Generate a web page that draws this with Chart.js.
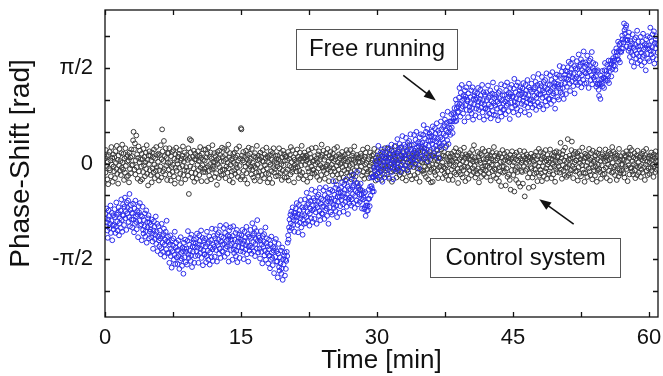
<!DOCTYPE html>
<html>
<head>
<meta charset="utf-8">
<script src="https://cdn.jsdelivr.net/npm/chart.js@4/dist/chart.umd.min.js"></script>
<style>
html,body{margin:0;padding:0;background:#fff;}
#wrap{width:663px;height:376px;position:relative;}
</style>
</head>
<body>
<div id="wrap"><canvas id="c" width="663" height="376"></canvas></div>
<script>
// sampling: one value every 0.05 min starting at 0 min
const startTime = 0;
const sampleStep = 0.05;

// Control system (black) phase shift, rad
const controlPhase = [
0.08,-0.15,0.22,-0.04,0.12,-0.26,0.03,-0.34,0.14,-0.08,0.19,-0.11,0.05,-0.21,0.27,-0.02,0.09,-0.30,0.15,-0.05,
-0.13,0.10,-0.24,0.20,0.01,-0.09,0.29,-0.17,0.06,-0.33,0.13,-0.03,0.24,-0.12,0.04,-0.19,0.17,-0.07,0.31,0.02,
-0.10,0.16,-0.27,0.08,-0.15,0.25,-0.04,0.11,-0.22,0.03,0.14,-0.20,0.05,-0.31,0.18,-0.09,0.10,-0.16,0.23,-0.03,
0.12,-0.02,0.38,0.52,0.23,-0.10,0.33,-0.18,0.05,0.46,-0.06,0.15,-0.25,0.09,0.28,-0.13,0.02,0.21,-0.29,0.07,
-0.05,0.16,-0.26,0.07,-0.14,0.24,-0.03,0.11,-0.21,0.02,0.18,-0.09,0.30,-0.17,0.06,-0.36,0.13,-0.01,0.20,-0.11,
0.13,-0.19,0.05,-0.31,0.18,-0.08,0.10,-0.15,0.23,-0.02,-0.24,0.08,-0.12,0.27,-0.06,0.14,-0.20,0.03,0.16,-0.28,
-0.11,0.14,-0.05,0.30,-0.23,0.07,0.56,0.20,-0.13,0.04,0.37,-0.09,0.12,-0.18,0.25,-0.04,0.09,-0.27,0.17,0.01,
0.17,-0.10,0.25,-0.18,0.02,-0.28,0.12,-0.06,0.19,-0.14,-0.02,0.22,-0.21,0.08,-0.33,0.15,-0.07,0.26,-0.12,0.05,
-0.01,0.11,-0.24,0.16,-0.07,0.22,-0.17,0.05,-0.32,0.08,0.13,-0.04,0.28,-0.19,0.03,-0.11,0.18,-0.26,0.09,-0.06,
0.14,-0.12,0.06,-0.20,0.25,-0.50,0.09,0.40,-0.05,0.18,0.38,-0.15,0.02,-0.23,0.11,-0.08,0.21,-0.30,0.07,0.16,
-0.16,0.07,-0.25,0.12,-0.02,0.20,-0.11,0.04,-0.19,0.13,0.27,-0.07,0.09,-0.29,0.16,-0.03,0.06,-0.14,0.23,-0.09,
0.05,-0.14,0.23,-0.07,0.10,-0.29,0.16,-0.04,0.26,-0.12,-0.20,0.11,-0.01,0.18,-0.26,0.08,-0.10,0.30,-0.05,0.03,
-0.08,0.17,-0.22,0.02,0.12,-0.16,0.06,-0.35,0.19,-0.01,0.09,-0.24,0.21,-0.06,0.14,-0.13,0.03,-0.19,0.26,-0.10,
0.11,-0.18,0.04,0.24,-0.10,0.14,-0.24,0.07,-0.05,0.22,-0.15,0.01,0.31,-0.08,0.10,-0.28,0.17,-0.02,0.06,-0.20,
-0.13,0.08,-0.31,0.16,0.01,-0.11,0.18,-0.17,0.10,-0.02,0.24,-0.07,0.13,-0.22,0.05,-0.14,0.28,-0.04,0.08,-0.26,
0.58,0.56,0.13,-0.22,0.05,0.19,-0.12,0.02,-0.26,0.11,-0.05,0.21,-0.16,0.07,-0.33,0.14,-0.01,0.26,-0.09,0.04,
0.16,-0.05,0.08,-0.18,0.24,-0.10,0.01,-0.23,0.12,-0.04,-0.28,0.17,-0.07,0.10,-0.15,0.29,-0.02,0.06,-0.20,0.13,
-0.14,0.07,-0.29,0.18,-0.06,0.11,-0.19,0.04,0.22,-0.11,0.03,-0.24,0.15,-0.03,0.09,-0.17,0.26,-0.08,0.12,-0.31,
0.10,-0.17,0.02,-0.25,0.14,-0.02,0.20,-0.13,0.06,-0.32,0.17,-0.06,0.25,-0.15,0.04,-0.09,0.13,-0.21,0.08,0.01,
-0.05,0.13,-0.20,0.07,0.25,-0.08,0.04,-0.16,0.17,-0.01,-0.27,0.10,-0.12,0.21,-0.03,0.15,-0.23,0.05,0.11,-0.14,
0.12,-0.23,0.05,-0.10,0.19,-0.28,0.08,-0.04,0.14,-0.18,0.27,-0.06,0.02,-0.14,0.22,-0.09,0.10,-0.31,0.06,-0.02,
-0.07,0.16,-0.13,0.02,0.23,-0.06,0.11,-0.24,0.06,-0.12,0.18,-0.19,0.08,-0.03,0.29,-0.15,0.04,0.13,-0.26,0.09,
0.18,-0.02,0.10,-0.20,0.04,0.13,-0.30,0.07,-0.08,0.22,-0.13,0.01,0.16,-0.23,0.09,-0.05,0.25,-0.16,0.03,-0.10,
-0.11,0.05,-0.17,0.12,-0.01,0.26,-0.14,0.08,-0.22,0.02,0.15,-0.08,0.20,-0.27,0.06,-0.03,0.11,-0.19,0.31,-0.06,
0.14,-0.07,0.21,-0.12,0.06,-0.25,0.11,-0.05,0.17,-0.16,-0.02,0.24,-0.10,0.03,-0.29,0.13,-0.06,0.19,-0.13,0.08,
-0.02,0.10,-0.19,0.16,-0.08,0.04,0.24,-0.13,0.07,-0.29,0.12,-0.04,0.27,-0.18,0.02,-0.10,0.15,-0.24,0.09,-0.01,
0.12,-0.17,0.01,0.19,-0.06,0.11,-0.23,0.05,-0.11,0.14,-0.28,0.08,-0.03,0.22,-0.15,0.03,0.17,-0.09,0.06,-0.20,
-0.04,0.22,-0.14,0.07,-0.26,0.13,-0.01,0.17,-0.18,0.06,0.28,-0.11,0.02,-0.21,0.10,-0.06,0.14,-0.32,0.08,0.03,
0.10,-0.11,0.02,-0.42,0.16,-0.05,0.12,-0.20,0.04,0.23,-0.14,0.07,-0.25,0.11,-0.02,0.18,-0.08,0.01,-0.17,0.26,
-0.13,0.07,-0.24,0.11,-0.04,0.18,-0.10,0.01,-0.17,0.13,0.05,-0.21,0.15,-0.07,0.24,-0.12,0.03,-0.28,0.09,-0.02,
0.05,-0.16,0.20,-0.07,0.10,-0.22,0.02,0.14,-0.12,0.06,-0.27,0.12,-0.03,0.19,-0.09,0.03,-0.18,0.25,-0.05,0.08,
-0.08,0.12,-0.18,0.04,0.24,-0.05,0.08,-0.25,0.16,-0.02,0.10,-0.13,0.21,-0.30,0.06,-0.07,0.15,-0.11,0.02,0.28,
0.11,-0.13,0.06,-0.23,0.17,-0.07,0.01,0.19,-0.11,0.05,-0.19,0.26,-0.04,0.08,-0.14,0.13,-0.24,0.03,0.17,-0.08,
-0.17,0.08,-0.04,0.14,-0.28,0.07,0.22,-0.10,0.02,-0.14,0.12,-0.06,0.30,-0.20,0.05,-0.02,0.10,-0.26,0.16,0.01,
0.13,-0.06,0.18,-0.19,0.05,-0.01,0.11,-0.24,0.16,-0.08,-0.15,0.21,-0.03,0.09,-0.30,0.14,-0.10,0.04,0.24,-0.12,
0.02,0.20,-0.12,0.07,-0.17,0.25,-0.05,0.10,-0.22,0.01,0.16,-0.09,0.03,-0.26,0.12,-0.04,0.19,-0.14,0.07,-0.31,
-0.10,0.14,-0.02,-0.30,0.12,-0.07,0.17,-0.14,0.06,-0.19,0.09,-0.02,0.23,-0.11,0.04,-0.24,0.15,-0.06,0.10,0.27,
0.08,-0.04,0.23,-0.11,0.02,-0.24,0.13,-0.06,0.19,-0.16,-0.08,0.11,-0.20,0.29,-0.03,0.07,-0.13,0.16,-0.27,0.04,
-0.01,0.11,-0.20,0.05,0.16,-0.10,0.04,-0.27,0.12,-0.05,0.20,-0.15,0.08,-0.02,0.25,-0.18,0.03,0.13,-0.09,-0.32,
0.18,-0.14,0.07,-0.02,0.22,-0.18,0.10,-0.07,0.14,-0.23,0.04,-0.11,0.26,-0.05,0.09,-0.29,0.15,0.01,-0.16,0.11,
-0.06,0.13,-0.25,0.08,-0.11,0.17,-0.01,0.06,-0.19,0.12,0.22,-0.08,0.03,-0.14,0.30,-0.04,0.10,-0.23,0.05,-0.12,
0.03,-0.17,0.19,-0.08,0.11,-0.31,0.05,0.16,-0.13,0.01,-0.22,0.14,-0.06,0.24,-0.10,0.07,-0.18,0.02,0.20,-0.04,
-0.12,0.07,-0.22,0.14,-0.04,0.10,-0.16,0.21,-0.07,0.02,0.13,-0.28,0.08,-0.02,0.18,-0.12,0.05,-0.20,0.27,-0.09,
0.13,-0.10,0.05,-0.24,0.17,-0.02,0.08,-0.18,0.12,-0.29,-0.06,0.16,-0.13,0.03,-0.37,0.10,-0.05,0.22,-0.15,0.04,
-0.05,0.16,-0.13,0.06,-0.36,0.11,-0.08,0.19,-0.22,0.04,0.09,-0.18,0.02,-0.27,0.14,-0.43,0.07,-0.11,0.20,-0.03,
0.10,-0.19,0.02,-0.46,0.14,-0.11,0.07,-0.27,0.18,-0.06,-0.14,0.05,-0.32,0.12,-0.04,0.21,-0.38,0.08,-0.12,0.01,
-0.14,0.05,-0.33,0.12,-0.04,0.20,-0.54,0.08,-0.12,0.01,0.15,-0.09,0.06,-0.23,0.11,-0.40,0.03,-0.16,0.09,-0.06,
0.16,-0.08,0.06,-0.23,0.11,-0.38,0.03,-0.17,0.13,-0.02,-0.10,0.19,-0.15,0.07,-0.29,0.12,-0.05,0.24,-0.20,0.02,
-0.10,0.19,-0.16,0.07,-0.29,0.12,-0.05,0.17,-0.21,0.09,0.03,-0.13,0.22,-0.08,0.05,-0.25,0.14,-0.02,0.08,-0.17,
0.02,-0.13,0.23,-0.07,0.08,-0.24,0.14,-0.01,0.06,-0.18,0.12,-0.05,0.18,-0.30,0.04,-0.09,0.20,-0.14,0.10,0.01,
0.12,-0.05,0.18,-0.15,0.03,0.34,-0.10,0.09,-0.25,0.15,-0.03,0.21,-0.12,0.05,-0.19,0.26,-0.07,0.11,-0.22,0.02,
-0.07,0.40,-0.19,0.06,-0.02,0.13,-0.16,0.08,-0.11,0.22,0.36,-0.04,0.10,-0.24,0.15,-0.08,0.02,0.19,-0.13,0.05,
0.05,-0.12,0.17,-0.28,0.11,-0.06,0.20,-0.17,0.01,0.07,-0.21,0.13,-0.03,0.26,-0.10,0.04,-0.15,0.09,-0.30,0.16,
-0.16,0.10,-0.04,0.14,-0.22,0.02,0.12,-0.08,0.24,-0.13,0.06,-0.19,0.17,-0.01,0.09,-0.26,0.21,-0.06,0.03,-0.11,
0.06,-0.20,0.13,-0.05,0.18,-0.30,0.07,-0.11,0.16,-0.02,-0.09,0.23,-0.14,0.04,-0.25,0.11,-0.03,0.15,-0.18,0.08,
-0.10,0.12,-0.17,0.04,0.23,-0.07,0.10,-0.24,0.05,0.14,-0.02,0.19,-0.12,0.07,-0.28,0.16,-0.05,0.09,-0.15,0.27,
0.01,-0.14,0.19,-0.06,0.11,-0.19,0.16,-0.04,0.08,-0.27,0.13,-0.08,0.03,-0.21,0.24,-0.11,0.06,-0.16,0.12,-0.02,
-0.12,0.07,-0.02,0.17,-0.16,0.06,-0.23,0.13,-0.05,0.11,0.20,-0.09,0.04,-0.29,0.15,-0.03,0.09,-0.18,0.26,-0.07,
0.14,-0.08,0.22,-0.13,0.04,-0.18,0.10,-0.01,0.17,-0.11,-0.24,0.08,-0.04,0.13,-0.19,0.21,-0.06,0.02,-0.15,0.10,
-0.04,0.12,-0.22,0.07,-0.10,0.16,-0.15,0.05,0.20,-0.06,0.09,-0.27,0.14,-0.02,0.24,-0.12,0.03,-0.19,0.11,-0.08,
0.08,-0.17,0.02,0.13,-0.07,0.18,-0.12,0.06,-0.02,0.11,-0.22,0.15,-0.05,0.09,-0.14,0.20,0.04,-0.10,0.12,-0.03,
0.04
];

// Free running (blue) phase shift, rad
const freePhase = [
-0.90,-0.83,-1.03,-0.74,-0.97,-1.10,-1.22,-0.92,-0.77,-0.86,-1.06,-0.99,-0.69,-1.14,-0.94,-0.81,-1.26,-1.02,-0.85,-1.08,
-1.01,-0.75,-0.88,-1.14,-1.04,-0.64,-0.84,-0.95,-1.10,-0.81,-0.72,-1.18,-0.98,-0.90,-0.77,-1.06,-0.59,-0.93,-1.12,-0.85,
-0.67,-0.85,-1.01,-0.71,-0.56,-0.90,-0.78,-1.09,-0.64,-0.82,-0.73,-0.61,-0.96,-0.88,-0.50,-1.03,-0.76,-0.68,-0.92,-0.81,
-1.05,-0.82,-0.66,-0.92,-1.13,-0.74,-0.99,-0.61,-0.87,-0.96,-1.08,-0.78,-0.84,-1.21,-0.70,-0.80,-0.94,-0.65,-1.02,-0.85,
-1.00,-1.26,-0.87,-0.71,-1.09,-1.15,-0.93,-1.03,-0.82,-1.20,-1.11,-0.77,-1.30,-0.96,-1.05,-0.90,-0.85,-1.23,-0.97,-1.12,
-1.08,-1.01,-1.21,-0.92,-1.15,-1.28,-1.40,-1.10,-0.95,-1.04,-1.24,-1.17,-0.87,-1.32,-1.12,-0.99,-1.44,-1.20,-1.03,-1.26,
-1.36,-1.10,-1.23,-1.49,-1.39,-0.99,-1.19,-1.30,-1.45,-1.16,-1.07,-1.53,-1.33,-1.25,-1.12,-1.41,-0.94,-1.28,-1.47,-1.20,
-1.29,-1.47,-1.63,-1.33,-1.18,-1.52,-1.40,-1.71,-1.26,-1.44,-1.35,-1.23,-1.58,-1.50,-1.12,-1.65,-1.38,-1.30,-1.54,-1.43,
-1.65,-1.42,-1.26,-1.52,-1.73,-1.34,-1.59,-1.21,-1.47,-1.56,-1.68,-1.38,-1.44,-1.81,-1.30,-1.40,-1.54,-1.25,-1.62,-1.45,
-1.40,-1.66,-1.27,-1.11,-1.49,-1.55,-1.33,-1.43,-1.22,-1.60,-1.51,-1.17,-1.70,-1.36,-1.45,-1.30,-1.25,-1.63,-1.37,-1.52,
-1.31,-1.24,-1.44,-1.15,-1.38,-1.51,-1.63,-1.33,-1.18,-1.27,-1.47,-1.40,-1.10,-1.55,-1.35,-1.22,-1.67,-1.43,-1.26,-1.49,
-1.49,-1.23,-1.36,-1.62,-1.52,-1.12,-1.32,-1.43,-1.58,-1.29,-1.20,-1.66,-1.46,-1.38,-1.25,-1.54,-1.07,-1.41,-1.60,-1.33,
-1.19,-1.37,-1.53,-1.23,-1.08,-1.42,-1.30,-1.61,-1.16,-1.34,-1.25,-1.13,-1.48,-1.40,-1.02,-1.55,-1.28,-1.20,-1.44,-1.33,
-1.45,-1.22,-1.06,-1.32,-1.53,-1.14,-1.39,-1.01,-1.27,-1.36,-1.48,-1.18,-1.24,-1.61,-1.10,-1.20,-1.34,-1.05,-1.42,-1.25,
-1.32,-1.58,-1.19,-1.03,-1.41,-1.47,-1.25,-1.35,-1.14,-1.52,-1.43,-1.09,-1.62,-1.28,-1.37,-1.22,-1.17,-1.55,-1.29,-1.44,
-1.25,-1.18,-1.38,-1.09,-1.32,-1.45,-1.57,-1.27,-1.12,-1.21,-1.41,-1.34,-1.04,-1.49,-1.29,-1.16,-1.61,-1.37,-1.20,-1.43,
-1.35,-1.09,-1.22,-1.48,-1.38,-0.98,-1.18,-1.29,-1.44,-1.15,-1.06,-1.52,-1.32,-1.24,-1.11,-1.40,-0.93,-1.27,-1.46,-1.19,
-1.22,-1.40,-1.56,-1.26,-1.11,-1.45,-1.33,-1.64,-1.19,-1.37,-1.28,-1.16,-1.51,-1.43,-1.05,-1.58,-1.31,-1.23,-1.47,-1.36,
-1.64,-1.41,-1.25,-1.51,-1.72,-1.33,-1.58,-1.20,-1.46,-1.55,-1.67,-1.37,-1.43,-1.80,-1.29,-1.39,-1.53,-1.24,-1.61,-1.44,
-1.61,-1.87,-1.48,-1.32,-1.70,-1.76,-1.54,-1.64,-1.43,-1.81,-1.72,-1.38,-1.91,-1.57,-1.66,-1.51,-1.46,-1.84,-1.58,-1.73,
-1.60,-1.45,-1.52,-1.30,-1.18,-1.25,-1.05,-0.92,-1.10,-0.84,-0.98,-0.79,-1.06,-0.88,-0.72,-1.01,-0.93,-0.81,-1.12,-0.86,
-0.81,-0.74,-0.94,-0.65,-0.88,-1.01,-1.13,-0.83,-0.68,-0.77,-0.97,-0.90,-0.60,-1.05,-0.85,-0.72,-1.17,-0.93,-0.76,-0.99,
-0.85,-0.59,-0.72,-0.98,-0.88,-0.48,-0.68,-0.79,-0.94,-0.65,-0.56,-1.02,-0.82,-0.74,-0.61,-0.90,-0.43,-0.77,-0.96,-0.69,
-0.57,-0.75,-0.91,-0.61,-0.46,-0.80,-0.68,-0.99,-0.54,-0.72,-0.63,-0.51,-0.86,-0.78,-0.40,-0.93,-0.66,-0.58,-0.82,-0.71,
-0.83,-0.60,-0.44,-0.70,-0.91,-0.52,-0.77,-0.39,-0.65,-0.74,-0.86,-0.56,-0.62,-0.99,-0.48,-0.58,-0.72,-0.43,-0.80,-0.63,
-0.58,-0.84,-0.45,-0.29,-0.67,-0.73,-0.51,-0.61,-0.40,-0.78,-0.69,-0.35,-0.88,-0.54,-0.63,-0.48,-0.43,-0.81,-0.55,-0.70,
-0.47,-0.40,-0.60,-0.31,-0.54,-0.67,-0.79,-0.49,-0.34,-0.43,-0.63,-0.56,-0.26,-0.71,-0.51,-0.38,-0.83,-0.59,-0.42,-0.65,
-0.56,-0.30,-0.43,-0.69,-0.59,-0.19,-0.39,-0.50,-0.65,-0.36,-0.27,-0.73,-0.53,-0.45,-0.32,-0.61,-0.14,-0.48,-0.67,-0.40,
-0.37,-0.51,-0.63,-0.43,-0.33,-0.58,-0.51,-0.74,-0.45,-0.59,-0.55,-0.49,-0.75,-0.72,-0.47,-0.86,-0.69,-0.64,-0.78,-0.69,
-0.77,-0.58,-0.43,-0.58,-0.70,-0.38,-0.53,-0.23,-0.37,-0.41,-0.46,-0.22,-0.23,-0.46,-0.07,-0.11,-0.18,0.04,-0.20,-0.06,
0.00,-0.26,0.13,0.29,-0.09,-0.15,0.07,-0.03,0.18,-0.20,-0.11,0.23,-0.30,0.04,-0.05,0.10,0.15,-0.23,0.03,-0.12,
0.10,0.17,-0.03,0.26,0.03,-0.10,-0.22,0.08,0.23,0.14,-0.06,0.01,0.31,-0.14,0.06,0.19,-0.26,-0.02,0.15,-0.08,
0.03,0.29,0.16,-0.10,0.00,0.40,0.20,0.09,-0.06,0.23,0.32,-0.14,0.06,0.14,0.27,-0.02,0.45,0.11,-0.08,0.19,
0.31,0.13,-0.03,0.27,0.42,0.08,0.20,-0.11,0.34,0.16,0.25,0.37,0.02,0.10,0.48,-0.05,0.22,0.30,0.06,0.17,
0.08,0.31,0.47,0.21,0.00,0.39,0.14,0.52,0.26,0.17,0.05,0.35,0.29,-0.08,0.43,0.33,0.19,0.48,0.11,0.28,
0.34,0.08,0.47,0.63,0.25,0.19,0.41,0.31,0.52,0.14,0.23,0.57,0.04,0.38,0.29,0.44,0.49,0.11,0.37,0.22,
0.45,0.52,0.32,0.61,0.38,0.25,0.13,0.43,0.58,0.49,0.29,0.36,0.66,0.21,0.41,0.54,0.09,0.33,0.50,0.27,
0.43,0.69,0.56,0.30,0.40,0.80,0.60,0.49,0.34,0.63,0.72,0.26,0.46,0.54,0.67,0.38,0.85,0.51,0.32,0.59,
0.69,0.57,0.47,0.69,0.81,0.59,0.69,0.50,0.83,0.73,0.81,0.91,0.69,0.76,1.05,0.70,0.91,0.98,0.84,0.94,
0.85,1.08,1.24,0.98,0.77,1.16,0.91,1.29,1.03,0.94,0.82,1.12,1.06,0.69,1.20,1.10,0.96,1.25,0.88,1.05,
1.02,0.76,1.15,1.31,0.93,0.87,1.09,0.99,1.20,0.82,0.91,1.25,0.72,1.06,0.97,1.12,1.17,0.79,1.05,0.90,
1.08,1.15,0.95,1.24,1.01,0.88,0.76,1.06,1.21,1.12,0.92,0.99,1.29,0.84,1.04,1.17,0.72,0.96,1.13,0.90,
0.91,1.17,1.04,0.78,0.88,1.28,1.08,0.97,0.82,1.11,1.20,0.74,0.94,1.02,1.15,0.86,1.33,0.99,0.80,1.07,
1.13,0.95,0.79,1.09,1.24,0.90,1.02,0.71,1.16,0.98,1.07,1.19,0.84,0.92,1.30,0.77,1.04,1.12,0.88,0.99,
0.89,1.12,1.28,1.02,0.81,1.20,0.95,1.33,1.07,0.98,0.86,1.16,1.10,0.73,1.24,1.14,1.00,1.29,0.92,1.09,
1.10,0.84,1.23,1.39,1.01,0.95,1.17,1.07,1.28,0.90,0.99,1.33,0.80,1.14,1.05,1.20,1.25,0.87,1.13,0.98,
1.16,1.23,1.03,1.32,1.09,0.96,0.84,1.14,1.29,1.20,1.00,1.07,1.37,0.92,1.12,1.25,0.80,1.04,1.21,0.98,
1.05,1.31,1.18,0.92,1.02,1.42,1.22,1.11,0.96,1.25,1.34,0.88,1.08,1.16,1.29,1.00,1.47,1.13,0.94,1.21,
1.31,1.13,0.97,1.27,1.42,1.08,1.20,0.89,1.34,1.16,1.25,1.37,1.02,1.10,1.48,0.95,1.22,1.30,1.06,1.17,
1.06,1.29,1.45,1.19,0.98,1.37,1.12,1.50,1.24,1.15,1.03,1.33,1.27,0.90,1.41,1.31,1.17,1.46,1.09,1.26,
1.30,1.05,1.44,1.60,1.23,1.17,1.40,1.30,1.51,1.14,1.24,1.58,1.06,1.40,1.31,1.46,1.52,1.14,1.40,1.26,
1.51,1.58,1.38,1.67,1.44,1.31,1.19,1.49,1.64,1.55,1.35,1.42,1.72,1.27,1.47,1.60,1.15,1.39,1.56,1.33,
1.42,1.68,1.55,1.29,1.39,1.79,1.59,1.48,1.33,1.62,1.71,1.25,1.45,1.53,1.66,1.37,1.84,1.50,1.31,1.58,
1.66,1.48,1.32,1.62,1.77,1.43,1.55,1.24,1.69,1.51,1.60,1.72,1.37,1.45,1.83,1.30,1.57,1.65,1.41,1.52,
1.38,1.53,1.63,1.43,1.26,1.51,1.30,1.53,1.31,1.21,1.11,1.32,1.30,1.06,1.44,1.39,1.31,1.52,1.27,1.40,
1.41,1.24,1.53,1.65,1.39,1.36,1.52,1.46,1.62,1.36,1.44,1.69,1.32,1.57,1.52,1.63,1.69,1.43,1.64,1.55,
1.68,1.73,1.61,1.83,1.69,1.60,1.54,1.76,1.89,1.83,1.71,1.77,2.00,1.70,1.86,1.96,1.66,1.84,1.98,1.83,
1.89,2.10,2.04,1.89,1.99,2.30,2.19,2.13,2.03,2.23,2.27,1.92,2.02,2.03,2.09,1.85,2.15,1.89,1.75,1.93,
2.01,1.83,1.67,1.97,2.12,1.78,1.90,1.59,2.04,1.86,1.95,2.07,1.72,1.80,2.18,1.65,1.92,2.00,1.76,1.87,
1.69,1.92,2.08,1.82,1.61,2.00,1.75,2.13,1.87,1.78,1.66,1.96,1.90,1.53,2.04,1.94,1.80,2.09,1.72,1.89,
1.94,1.68,2.07,2.23,1.85,1.79,2.01,1.91,2.12,1.74,1.83,2.17,1.64,1.98,1.89,2.04,2.09,1.71,1.97,1.82,
1.95
];

// axis ticks
const xTickValues = [0, 7.5, 15, 22.5, 30, 37.5, 45, 52.5, 60];
const xTickLabels = ['0', '', '15', '', '30', '', '45', '', '60'];
const yTickValues = [-4, -3, -2, -1, 0, 1, 2, 3, 4].map(k => k * Math.PI / 6);
const yTickLabels = ['', '-π/2', '', '', '0', '', '', 'π/2', ''];

// annotations in data units: box [x1, x2, yTop, yBottom], arrow [x0, y0, x1, y1] (head at x1,y1)
const annotationTexts = ['Free running', 'Control system'];
const annotationBoxes = [[21.1, 38.9, 2.216, 1.557], [35.9, 56.9, -1.217, -1.865]];
const annotationArrows = [[32.9, 1.446, 36.5, 1.035], [51.7, -0.997, 47.9, -0.585]];

const toPoints = arr => arr.map((v, i) => ({ x: +(startTime + i * sampleStep).toFixed(2), y: v }));

const frameTicks = {
  id: 'frameTicks',
  afterDatasetsDraw(chart) {
    const { ctx, chartArea: a, scales } = chart;
    ctx.save();
    ctx.strokeStyle = '#111';
    ctx.lineWidth = 1.3;
    ctx.strokeRect(a.left, a.top, a.right - a.left, a.bottom - a.top);
    const L = 5;
    ctx.beginPath();
    scales.x.ticks.forEach(t => {
      const px = Math.round(scales.x.getPixelForValue(t.value)) + 0.5;
      ctx.moveTo(px, a.bottom); ctx.lineTo(px, a.bottom - L);
      ctx.moveTo(px, a.top); ctx.lineTo(px, a.top + L);
    });
    scales.y.ticks.forEach(t => {
      const py = Math.round(scales.y.getPixelForValue(t.value)) + 0.5;
      ctx.moveTo(a.left, py); ctx.lineTo(a.left + L, py);
      ctx.moveTo(a.right, py); ctx.lineTo(a.right - L, py);
    });
    ctx.stroke();

    // annotations
    ctx.font = '24px "Liberation Sans", Arial, sans-serif';
    ctx.textAlign = 'center';
    ctx.textBaseline = 'middle';
    annotationTexts.forEach((txt, i) => {
      const b = annotationBoxes[i];
      const x1 = scales.x.getPixelForValue(b[0]), x2 = scales.x.getPixelForValue(b[1]);
      const y1 = scales.y.getPixelForValue(b[2]), y2 = scales.y.getPixelForValue(b[3]);
      ctx.fillStyle = '#fff';
      ctx.fillRect(x1, y1, x2 - x1, y2 - y1);
      ctx.strokeStyle = '#555';
      ctx.lineWidth = 1;
      ctx.strokeRect(Math.round(x1) + 0.5, Math.round(y1) + 0.5, Math.round(x2 - x1), Math.round(y2 - y1));
      ctx.fillStyle = '#111';
      ctx.fillText(txt, (x1 + x2) / 2, (y1 + y2) / 2 + 1);

      const ar = annotationArrows[i];
      const ax0 = scales.x.getPixelForValue(ar[0]), ay0 = scales.y.getPixelForValue(ar[1]);
      const ax1 = scales.x.getPixelForValue(ar[2]), ay1 = scales.y.getPixelForValue(ar[3]);
      const ang = Math.atan2(ay1 - ay0, ax1 - ax0);
      const hl = 12, hw = 4.5;
      ctx.strokeStyle = '#111';
      ctx.lineWidth = 1.5;
      ctx.beginPath();
      ctx.moveTo(ax0, ay0);
      ctx.lineTo(ax1 - Math.cos(ang) * hl * 0.8, ay1 - Math.sin(ang) * hl * 0.8);
      ctx.stroke();
      ctx.fillStyle = '#111';
      ctx.beginPath();
      ctx.moveTo(ax1, ay1);
      ctx.lineTo(ax1 - Math.cos(ang) * hl - Math.sin(ang) * hw, ay1 - Math.sin(ang) * hl + Math.cos(ang) * hw);
      ctx.lineTo(ax1 - Math.cos(ang) * hl + Math.sin(ang) * hw, ay1 - Math.sin(ang) * hl - Math.cos(ang) * hw);
      ctx.closePath();
      ctx.fill();
    });
    ctx.restore();
  }
};

const fontFam = '"Liberation Sans", Arial, sans-serif';

new Chart(document.getElementById('c'), {
  type: 'scatter',
  data: {
    datasets: [
      {
        label: 'Free running',
        data: toPoints(freePhase),
        borderColor: '#2b2bea',
        backgroundColor: 'rgba(0,0,0,0)',
        pointRadius: 2.4,
        pointBorderWidth: 1,
        order: 0
      },
      {
        label: 'Control system',
        data: toPoints(controlPhase),
        borderColor: '#3a3a3a',
        backgroundColor: 'rgba(0,0,0,0)',
        pointRadius: 2.4,
        pointBorderWidth: 1,
        order: 1
      }
    ]
  },
  options: {
    responsive: false,
    animation: false,
    layout: { padding: { top: 10, right: 4, left: 0, bottom: 0 } },
    plugins: { legend: { display: false }, tooltip: { enabled: false } },
    scales: {
      x: {
        type: 'linear',
        min: 0, max: 61,
        afterBuildTicks: s => { s.ticks = xTickValues.map(v => ({ value: v })); },
        afterFit: s => { s.height = 59; s.paddingLeft = 0; s.paddingRight = 0; },
        grid: { display: false, drawTicks: false },
        border: { display: false },
        ticks: {
          autoSkip: false, maxRotation: 0, padding: 8,
          color: '#111',
          font: { family: fontFam, size: 22 },
          callback: (v, i) => xTickLabels[i]
        },
        title: {
          display: true, text: 'Time [min]', color: '#111',
          font: { family: fontFam, size: 26 },
          padding: { top: 0, bottom: 0 }
        }
      },
      y: {
        type: 'linear',
        min: -2.52, max: 2.52,
        afterBuildTicks: s => { s.ticks = yTickValues.map(v => ({ value: v })); },
        afterFit: s => { s.width = 105; s.paddingTop = 0; s.paddingBottom = 0; },
        grid: { display: false, drawTicks: false },
        border: { display: false },
        ticks: {
          autoSkip: false, padding: 12,
          color: '#111',
          font: { family: fontFam, size: 22 },
          callback: (v, i) => yTickLabels[i]
        },
        title: {
          display: true, text: 'Phase-Shift [rad]', color: '#111',
          font: { family: fontFam, size: 28 },
          padding: { top: 4, bottom: 0 }
        }
      }
    }
  },
  plugins: [frameTicks]
});
</script>
</body>
</html>
